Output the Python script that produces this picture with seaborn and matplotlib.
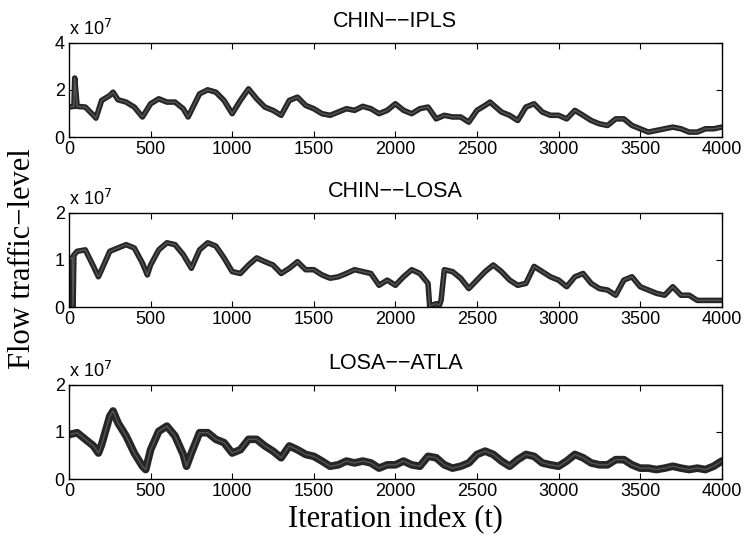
import numpy as np
import pandas as pd
import matplotlib
matplotlib.use("Agg")
import matplotlib.pyplot as plt
import seaborn as sns

# values, in units of 1e7
t_ipls = [0, 30, 35, 50, 100, 150, 165, 200, 250, 270, 300, 350, 400, 450, 500, 550, 600, 650,
          700, 730, 750, 800, 850, 900, 950, 1000, 1050, 1100, 1150, 1200, 1250, 1300, 1350,
          1400, 1450, 1500, 1550, 1600, 1650, 1700, 1750, 1800, 1850, 1900, 1950, 2000, 2050,
          2100, 2150, 2200, 2250, 2300, 2350, 2400, 2450, 2500, 2550, 2580, 2650, 2700, 2750,
          2800, 2850, 2900, 2950, 3000, 3050, 3100, 3150, 3200, 3250, 3300, 3350, 3400, 3450,
          3500, 3550, 3600, 3650, 3700, 3750, 3800, 3850, 3900, 3950, 4000]
v_ipls = [1.27, 1.3, 2.5, 1.3, 1.27, 0.92, 0.8, 1.55, 1.76, 1.9, 1.58, 1.48, 1.27, 0.85, 1.41,
          1.62, 1.48, 1.48, 1.2, 0.85, 1.13, 1.83, 2.0, 1.9, 1.55, 0.99, 1.55, 2.04, 1.62, 1.27,
          1.13, 0.92, 1.55, 1.69, 1.34, 1.2, 0.99, 0.92, 1.06, 1.2, 1.13, 1.3, 1.2, 0.99, 1.13,
          1.41, 1.13, 0.99, 1.2, 1.27, 0.77, 0.92, 0.85, 0.85, 0.63, 1.13, 1.34, 1.48, 1.06,
          0.92, 0.7, 1.27, 1.41, 1.06, 0.92, 0.92, 0.77, 1.13, 0.92, 0.7, 0.56, 0.49, 0.77,
          0.77, 0.49, 0.35, 0.21, 0.28, 0.35, 0.42, 0.35, 0.21, 0.21, 0.35, 0.35, 0.42]

t_losa = [0, 20, 25, 30, 50, 100, 150, 180, 200, 250, 300, 350, 400, 450, 480, 500, 550, 600,
          650, 700, 750, 800, 850, 900, 950, 1000, 1050, 1100, 1150, 1200, 1250, 1300, 1350,
          1400, 1450, 1500, 1550, 1600, 1650, 1700, 1750, 1800, 1850, 1900, 1950, 2000, 2050,
          2100, 2150, 2200, 2210, 2250, 2270, 2280, 2300, 2350, 2400, 2450, 2500, 2550, 2600,
          2650, 2700, 2750, 2800, 2850, 2900, 2950, 3000, 3050, 3100, 3150, 3200, 3250, 3300,
          3350, 3400, 3450, 3500, 3550, 3600, 3650, 3700, 3750, 3800, 3850, 3900, 3950, 4000]
v_losa = [1.0, 1.05, 0.0, 1.1, 1.18, 1.21, 0.86, 0.64, 0.79, 1.18, 1.25, 1.32, 1.25, 0.93, 0.68,
          0.89, 1.21, 1.36, 1.32, 1.11, 0.82, 1.21, 1.36, 1.29, 1.04, 0.75, 0.71, 0.89, 1.04,
          0.96, 0.89, 0.71, 0.82, 0.96, 0.79, 0.79, 0.68, 0.61, 0.64, 0.71, 0.79, 0.75, 0.71,
          0.46, 0.57, 0.46, 0.64, 0.79, 0.71, 0.5, 0.02, 0.07, 0.04, 0.14, 0.79, 0.75, 0.61,
          0.39, 0.57, 0.75, 0.89, 0.75, 0.57, 0.46, 0.5, 0.86, 0.75, 0.64, 0.57, 0.43, 0.64,
          0.71, 0.5, 0.39, 0.36, 0.25, 0.57, 0.64, 0.43, 0.36, 0.29, 0.25, 0.43, 0.25, 0.25,
          0.14, 0.14, 0.14, 0.14]

t_atla = [0, 50, 100, 150, 180, 200, 250, 270, 300, 350, 400, 450, 470, 500, 550, 600, 650,
          700, 720, 750, 800, 850, 900, 950, 1000, 1050, 1100, 1150, 1200, 1250, 1300, 1350,
          1400, 1450, 1500, 1550, 1600, 1650, 1700, 1750, 1800, 1850, 1900, 1950, 2000, 2050,
          2100, 2150, 2200, 2250, 2300, 2350, 2400, 2450, 2500, 2550, 2600, 2650, 2700, 2750,
          2800, 2850, 2900, 2950, 3000, 3050, 3100, 3150, 3200, 3250, 3300, 3350, 3400, 3450,
          3500, 3550, 3600, 3650, 3700, 3750, 3800, 3850, 3900, 3950, 4000]
v_atla = [0.94, 0.98, 0.84, 0.7, 0.55, 0.73, 1.33, 1.44, 1.19, 0.91, 0.55, 0.27, 0.2, 0.62,
          1.01, 1.12, 0.91, 0.52, 0.27, 0.55, 0.98, 0.98, 0.84, 0.77, 0.55, 0.62, 0.84, 0.84,
          0.7, 0.59, 0.45, 0.7, 0.62, 0.52, 0.48, 0.38, 0.27, 0.3, 0.38, 0.34, 0.38, 0.34,
          0.23, 0.3, 0.3, 0.38, 0.3, 0.27, 0.48, 0.45, 0.3, 0.23, 0.27, 0.34, 0.52, 0.59, 0.52,
          0.38, 0.27, 0.41, 0.52, 0.48, 0.34, 0.3, 0.27, 0.38, 0.52, 0.45, 0.34, 0.3, 0.3,
          0.41, 0.41, 0.3, 0.23, 0.23, 0.2, 0.23, 0.27, 0.23, 0.2, 0.23, 0.2, 0.27, 0.38]

titles = ["CHIN\u2212\u2212IPLS", "CHIN\u2212\u2212LOSA", "LOSA\u2212\u2212ATLA"]
series = [(t_ipls, v_ipls), (t_losa, v_losa), (t_atla, v_atla)]
ylims = [4, 2, 2]
yticks = [[0, 2, 4], [0, 1, 2], [0, 1, 2]]
xticks = list(range(0, 4001, 500))

sns.set_style("ticks")
plt.rcParams['font.family'] = ['Liberation Sans', 'DejaVu Sans']
plt.rcParams['xtick.direction'] = 'in'
plt.rcParams['ytick.direction'] = 'in'
plt.rcParams['text.color'] = 'black'
plt.rcParams['axes.titlecolor'] = 'black'

fig = plt.figure(figsize=(7.46, 5.46), dpi=100)
bottoms = [0.749, 0.4377, 0.1227]
axes = [fig.add_axes([0.0925, b, 0.875, 0.173]) for b in bottoms]

for ax, (t, v), title, ylim, yt, lw in zip(axes, series, titles, ylims, yticks, [4, 4, 5.5]):
    df = pd.DataFrame({'t': t, 'v': v})
    sns.lineplot(data=df, x='t', y='v', ax=ax, color='#262626', linewidth=lw)
    sns.lineplot(data=df, x='t', y='v', ax=ax, color='#555555', linewidth=1.0)
    ax.set_xlim(0, 4000)
    ax.set_ylim(0, ylim)
    ax.set_xticks(xticks)
    ax.set_yticks(yt)
    ax.tick_params(top=True, right=True, length=4, width=0.8, labelsize=13, pad=3,
                   colors='black', labelcolor='black')
    for s in ax.spines.values():
        s.set_visible(True)
        s.set_linewidth(1.0)
        s.set_color('black')
    ax.set_xlabel('')
    ax.set_ylabel('')
    ax.set_title(title, fontsize=15.5, pad=11, color='black')
    ax.text(0.0, 1.04, r'x 10$^{7}$', transform=ax.transAxes, fontsize=13, ha='left',
            va='bottom', color='black')

fig.text(0.03, 0.526, 'Flow traffic\u2212level', rotation=90, ha='center', va='center',
         fontsize=22, family='Liberation Serif', color='black')
fig.text(0.53, 0.048, 'Iteration index (t)', ha='center', va='center',
         fontsize=22, family='Liberation Serif', color='black')

fig.savefig('out.png', dpi=100)
